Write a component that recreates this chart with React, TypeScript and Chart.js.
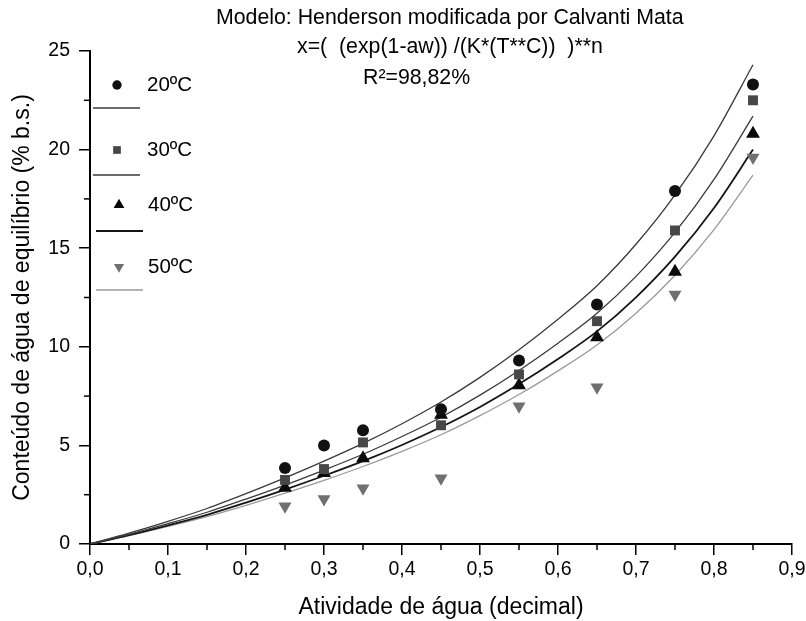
import React, { useEffect, useRef } from 'react';
import { Chart, registerables } from 'chart.js';

Chart.register(...registerables);

// ---- data ----
const aw = [0.25, 0.3, 0.35, 0.45, 0.55, 0.65, 0.75, 0.85];
const obs20 = [3.85, 5.0, 5.77, 6.83, 9.3, 12.15, 17.9, 23.3];
const obs30 = [3.25, 3.8, 5.15, 6.02, 8.6, 11.3, 15.9, 22.5];
const obs40 = [2.85, 3.6, 4.35, 6.55, 8.05, 10.48, 13.8, 20.8];
const obs50 = [1.92, 2.28, 2.83, 3.34, 6.98, 7.95, 12.65, 19.6];

const fitAw = [0, 0.05, 0.1, 0.15, 0.2, 0.25, 0.3, 0.35, 0.4, 0.45, 0.5, 0.55, 0.6, 0.65, 0.7, 0.75, 0.8, 0.85];
const fit20 = [0, 0.55, 1.15, 1.8, 2.55, 3.35, 4.2, 5.1, 6.1, 7.2, 8.45, 9.85, 11.4, 13.1, 15.2, 17.7, 20.7, 24.3];
const fit30 = [0, 0.49, 1.03, 1.61, 2.28, 2.99, 3.75, 4.55, 5.45, 6.43, 7.55, 8.8, 10.18, 11.7, 13.57, 15.8, 18.49, 21.7];
const fit40 = [0, 0.45, 0.95, 1.48, 2.1, 2.76, 3.46, 4.2, 5.02, 5.93, 6.95, 8.11, 9.38, 10.78, 12.51, 14.57, 17.04, 20.0];
const fit50 = [0, 0.42, 0.89, 1.39, 1.96, 2.58, 3.23, 3.93, 4.7, 5.54, 6.51, 7.58, 8.78, 10.09, 11.7, 13.63, 15.94, 18.7];

const seriesLabels = ['20ºC', '30ºC', '40ºC', '50ºC'];
const titleLines = [
  'Modelo: Henderson modificada por Calvanti Mata',
  'x=(  (exp(1-aw)) /(K*(T**C))  )**n',
  'R²=98,82%',
];
const xAxisTitle = 'Atividade de água (decimal)';
const yAxisTitle = 'Conteúdo de água de equilíbrio (% b.s.)';
const xMinorTicks = [0.05, 0.15, 0.25, 0.35, 0.45, 0.55, 0.65, 0.75, 0.85];
const yMinorTicks = [2.5, 7.5, 12.5, 17.5, 22.5];

const FONT = '"Liberation Sans", Arial, sans-serif';

type Marker = { style: string; r: number; fill: string; rot: number };
const markers: Marker[] = [
  { style: 'circle', r: 6, fill: '#111111', rot: 0 },
  { style: 'rect', r: 7, fill: '#474747', rot: 0 },
  { style: 'triangle', r: 8, fill: '#0a0a0a', rot: 0 },
  { style: 'triangle', r: 7.5, fill: '#707070', rot: 180 },
];
const fitStyles = [
  { color: '#3a3a3a', width: 1.3 },
  { color: '#3a3a3a', width: 1.3 },
  { color: '#151515', width: 1.8 },
  { color: '#9a9a9a', width: 1.3 },
];

function drawMarker(ctx: CanvasRenderingContext2D, m: Marker, x: number, y: number, scale = 1) {
  const r = m.r * scale;
  ctx.fillStyle = m.fill;
  ctx.beginPath();
  if (m.style === 'circle') {
    ctx.arc(x, y, r, 0, Math.PI * 2);
  } else if (m.style === 'rect') {
    const s = Math.SQRT1_2 * r;
    ctx.rect(x - s, y - s, 2 * s, 2 * s);
  } else {
    const sign = m.rot === 180 ? -1 : 1;
    ctx.moveTo(x, y - sign * r);
    ctx.lineTo(x + r * Math.sin((2 * Math.PI) / 3), y + sign * r * 0.5);
    ctx.lineTo(x - r * Math.sin((2 * Math.PI) / 3), y + sign * r * 0.5);
    ctx.closePath();
  }
  ctx.fill();
}

const overlayPlugin = {
  id: 'overlay',
  afterDraw(chart: any) {
    const ctx: CanvasRenderingContext2D = chart.ctx;
    const xs = chart.scales.x;
    const ys = chart.scales.y;
    const area = chart.chartArea;
    ctx.save();
    // minor ticks
    ctx.strokeStyle = '#000';
    ctx.lineWidth = 1.5;
    for (const v of yMinorTicks) {
      const py = ys.getPixelForValue(v);
      ctx.beginPath();
      ctx.moveTo(area.left - 6, py);
      ctx.lineTo(area.left, py);
      ctx.stroke();
    }
    for (const v of xMinorTicks) {
      const px = xs.getPixelForValue(v);
      ctx.beginPath();
      ctx.moveTo(px, area.bottom);
      ctx.lineTo(px, area.bottom + 6);
      ctx.stroke();
    }
    // title
    ctx.fillStyle = '#000';
    ctx.font = `21.3px ${FONT}`;
    ctx.textBaseline = 'middle';
    ctx.textAlign = 'left';
    const titleX = [216, 297, 363];
    const titleY = [18, 47, 78];
    titleLines.forEach((t, i) => ctx.fillText(t, titleX[i], titleY[i]));
    // legend
    const rowY = [85, 150, 205, 267];
    const lineY = [108, 175, 231, 290];
    const lineX0 = [93, 93, 96, 96];
    seriesLabels.forEach((lab, i) => {
      const mx = i >= 2 ? 119 : 117;
      drawMarker(ctx, markers[i], mx, rowY[i], 0.78);
      ctx.fillStyle = '#000';
      ctx.font = `20.5px ${FONT}`;
      ctx.fillText(lab, i >= 2 ? 148 : 147, rowY[i]);
      ctx.strokeStyle = fitStyles[i].color;
      ctx.lineWidth = fitStyles[i].width;
      ctx.beginPath();
      ctx.moveTo(lineX0[i], lineY[i]);
      ctx.lineTo(lineX0[i] + 47, lineY[i]);
      ctx.stroke();
    });
    ctx.restore();
  },
};

export default function App() {
  const ref = useRef<HTMLCanvasElement | null>(null);
  useEffect(() => {
    if (!ref.current) return;
    const fits = [fit20, fit30, fit40, fit50];
    const obs = [obs20, obs30, obs40, obs50];
    const fitSets = fits.map((f, i) => ({
      label: 'fit ' + seriesLabels[i],
      data: fitAw.map((x, j) => ({ x, y: f[j] })),
      showLine: true,
      borderColor: fitStyles[i].color,
      borderWidth: fitStyles[i].width,
      pointRadius: 0,
      cubicInterpolationMode: 'monotone' as const,
      order: 2,
    }));
    const obsSets = obs.map((o, i) => ({
      label: seriesLabels[i],
      data: aw.map((x, j) => ({ x, y: o[j] })),
      showLine: false,
      pointStyle: markers[i].style,
      pointRadius: markers[i].r,
      pointRotation: markers[i].rot,
      backgroundColor: markers[i].fill,
      borderColor: markers[i].fill,
      borderWidth: 0,
      order: 1,
    }));
    const chart = new Chart(ref.current, {
      type: 'scatter',
      data: { datasets: [...fitSets, ...obsSets] as any },
      options: {
        responsive: false,
        animation: false,
        events: [],
        layout: { padding: { left: 0, top: 51, right: 14, bottom: 0 } },
        plugins: { legend: { display: false }, tooltip: { enabled: false }, title: { display: false } },
        scales: {
          x: {
            type: 'linear',
            min: 0,
            max: 0.9,
            afterFit: (s: any) => { s.height = 77; s.paddingRight = 0; s.paddingLeft = 0; },
            border: { display: true, color: '#000', width: 2 },
            grid: { display: true, drawOnChartArea: false, drawTicks: true, tickLength: 11, color: '#000', lineWidth: 1.5 },
            ticks: {
              stepSize: 0.1,
              autoSkip: false,
              maxRotation: 0,
              padding: 3,
              color: '#000',
              font: { family: FONT, size: 19.5 },
              callback: (v: any) => Number(v).toFixed(1).replace('.', ','),
            },
            title: { display: true, text: xAxisTitle, color: '#000', font: { family: FONT, size: 23 }, padding: { top: 3, bottom: 0 } },
          },
          y: {
            type: 'linear',
            min: 0,
            max: 25,
            afterFit: (s: any) => { s.width = 90; s.paddingTop = 0; s.paddingBottom = 0; },
            border: { display: true, color: '#000', width: 2 },
            grid: { display: true, drawOnChartArea: false, drawTicks: true, tickLength: 11, color: '#000', lineWidth: 1.5 },
            ticks: {
              stepSize: 5,
              padding: 9,
              color: '#000',
              font: { family: FONT, size: 19.5 },
            },
            title: { display: true, text: yAxisTitle, color: '#000', font: { family: FONT, size: 23 }, padding: { top: 9, bottom: 0 } },
          },
        },
      },
      plugins: [overlayPlugin],
    });
    return () => chart.destroy();
  }, []);
  return (
    <div style={{ position: 'fixed', left: 0, top: 0, width: 806, height: 621, background: '#fff' }}>
      <canvas ref={ref} width={806} height={621} />
    </div>
  );
}
